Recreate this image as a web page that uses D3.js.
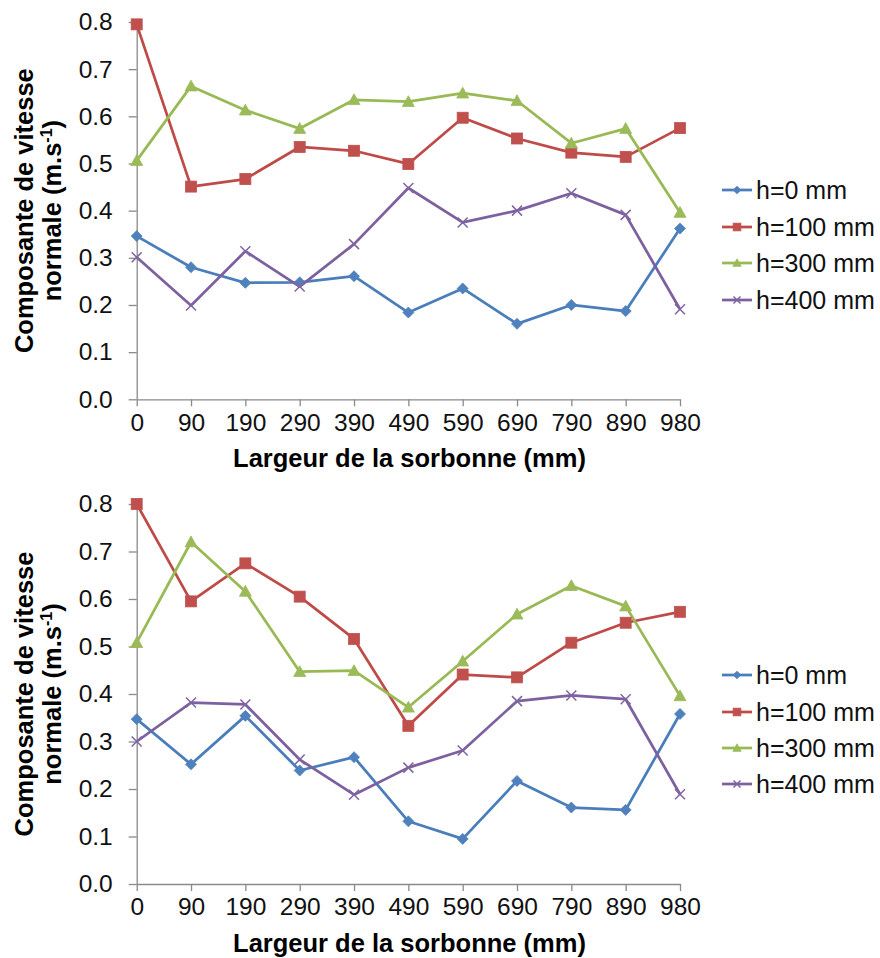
<!DOCTYPE html>
<html>
<head>
<meta charset="utf-8">
<script src="https://cdn.jsdelivr.net/npm/d3@7/dist/d3.min.js"></script>
<style>
  html, body { margin: 0; padding: 0; background: #fff; }
  svg { display: block; }
  text { font-family: "Liberation Sans", Arial, sans-serif; }
</style>
</head>
<body>
<svg id="chart" width="880" height="958"></svg>
<script>
// ---- Data ----
const categories = ["0", "90", "190", "290", "390", "490", "590", "690", "790", "890", "980"];
const seriesNames = ["h=0 mm", "h=100 mm", "h=300 mm", "h=400 mm"];
const yTicks = [0, 0.1, 0.2, 0.3, 0.4, 0.5, 0.6, 0.7, 0.8];

// Top chart
const topH0   = [0.346, 0.280, 0.247, 0.248, 0.261, 0.184, 0.235, 0.160, 0.200, 0.187, 0.362];
const topH100 = [0.795, 0.451, 0.467, 0.535, 0.527, 0.499, 0.597, 0.553, 0.523, 0.514, 0.575];
const topH300 = [0.506, 0.664, 0.613, 0.574, 0.635, 0.631, 0.649, 0.633, 0.543, 0.574, 0.396];
const topH400 = [0.301, 0.199, 0.314, 0.239, 0.329, 0.448, 0.375, 0.400, 0.437, 0.391, 0.191];

// Bottom chart
const botH0   = [0.347, 0.252, 0.354, 0.239, 0.267, 0.132, 0.095, 0.217, 0.161, 0.156, 0.358];
const botH100 = [0.800, 0.595, 0.675, 0.605, 0.516, 0.333, 0.441, 0.435, 0.508, 0.550, 0.573];
const botH300 = [0.508, 0.720, 0.616, 0.447, 0.449, 0.372, 0.469, 0.568, 0.628, 0.585, 0.396];
const botH400 = [0.300, 0.382, 0.378, 0.262, 0.188, 0.245, 0.281, 0.385, 0.397, 0.389, 0.189];

const xTitle = "Largeur de la sorbonne (mm)";
const yTitle1 = "Composante de vitesse";
const yTitle2a = "normale (m.s";
const yTitle2sup = "-1";
const yTitle2b = ")";

// ---- Styles ----
const lineColors   = ["#4A7EBB", "#BE4B48", "#98B954", "#7D60A0"];
const markerColors = ["#4F81BD", "#C0504D", "#9BBB59", "#8064A2"];
const markerTypes  = ["diamond", "square", "triangle", "x"];

const svg = d3.select("#chart");

function drawMarker(g, type, cx, cy, color, scale) {
  const s = scale || 1;
  if (type === "diamond") {
    const r = 5.5 * s;
    g.append("path").attr("d", `M${cx},${cy - r}L${cx + r},${cy}L${cx},${cy + r}L${cx - r},${cy}Z`)
      .attr("fill", color).attr("stroke", color).attr("stroke-width", 0.8);
  } else if (type === "square") {
    const r = 5.5 * s;
    g.append("rect").attr("x", cx - r).attr("y", cy - r).attr("width", 2 * r).attr("height", 2 * r)
      .attr("fill", color).attr("stroke", color).attr("stroke-width", 0.8);
  } else if (type === "triangle") {
    const r = 6 * s;
    g.append("path").attr("d", `M${cx},${cy - r}L${cx + r},${cy + r * 0.8}L${cx - r},${cy + r * 0.8}Z`)
      .attr("fill", color).attr("stroke", color).attr("stroke-width", 0.8);
  } else {
    const r = 5 * s;
    g.append("path").attr("d", `M${cx - r},${cy - r}L${cx + r},${cy + r}M${cx + r},${cy - r}L${cx - r},${cy + r}`)
      .attr("fill", "none").attr("stroke", color).attr("stroke-width", 1.5);
  }
}

function drawChart(cfg) {
  const data = cfg.series;
  const x = d3.scalePoint().domain(categories).range([136.7, 680]);
  const y = d3.scaleLinear().domain([0, 0.8]).range([cfg.y0, cfg.y8]);
  const g = svg.append("g");

  // Y axis
  const yAxis = g.append("g").attr("transform", `translate(136.7,0)`)
    .call(d3.axisLeft(y).tickValues(yTicks).tickFormat(d3.format(".1f")).tickSize(8).tickPadding(16).tickSizeOuter(0));
  // X axis
  const xAxis = g.append("g").attr("transform", `translate(0,${cfg.y0})`)
    .call(d3.axisBottom(x).tickSize(7).tickPadding(7).tickSizeOuter(0));

  [yAxis, xAxis].forEach(a => {
    a.select(".domain").attr("stroke", "#8a8a8a").attr("stroke-width", 1.3);
    a.selectAll(".tick line").attr("stroke", "#8a8a8a").attr("stroke-width", 1.3);
    a.selectAll(".tick text").attr("fill", "#111").attr("font-size", 24.5)
      .attr("font-family", "'Liberation Sans', Arial, sans-serif");
  });

  // Lines
  const line = d3.line().x((d, i) => x(categories[i])).y(d => y(d));
  data.forEach((vals, si) => {
    g.append("path").datum(vals).attr("d", line)
      .attr("fill", "none").attr("stroke", lineColors[si]).attr("stroke-width", 2.75)
      .attr("stroke-linejoin", "round");
  });
  data.forEach((vals, si) => {
    const mg = g.append("g");
    vals.forEach((v, i) => drawMarker(mg, markerTypes[si], x(categories[i]), y(v), markerColors[si], 1));
  });

  // Axis titles
  g.append("text").attr("x", (232 + 587) / 2).attr("y", cfg.y0 + 68)
    .attr("text-anchor", "middle").attr("font-weight", "bold").attr("font-size", 25.5).attr("fill", "#000")
    .text(xTitle);
  const cy = (cfg.y0 + cfg.y8) / 2;
  g.append("text").attr("transform", `translate(33,${cy}) rotate(-90)`)
    .attr("text-anchor", "middle").attr("font-weight", "bold").attr("font-size", 25.5).attr("fill", "#000")
    .text(yTitle1);
  const t2 = g.append("text").attr("transform", `translate(61,${cy}) rotate(-90)`)
    .attr("text-anchor", "middle").attr("font-weight", "bold").attr("font-size", 25.5).attr("fill", "#000");
  t2.append("tspan").text(yTitle2a);
  t2.append("tspan").attr("font-size", 16).attr("dy", -9).text(yTitle2sup);
  t2.append("tspan").attr("dy", 9).text(yTitle2b);

  // Legend
  cfg.legendY.forEach((ly, si) => {
    g.append("line").attr("x1", 722).attr("x2", 752).attr("y1", ly).attr("y2", ly)
      .attr("stroke", lineColors[si]).attr("stroke-width", 2.75);
    drawMarker(g, markerTypes[si], 737, ly, markerColors[si], 0.7);
    g.append("text").attr("x", 756).attr("y", ly + 8.5).attr("font-size", 25).attr("fill", "#111")
      .text(seriesNames[si]);
  });
}

drawChart({ series: [topH0, topH100, topH300, topH400], y0: 399.3, y8: 22, legendY: [190, 227, 263, 300] });
drawChart({ series: [botH0, botH100, botH300, botH400], y0: 884, y8: 504, legendY: [675, 712, 748, 784] });
</script>
</body>
</html>
